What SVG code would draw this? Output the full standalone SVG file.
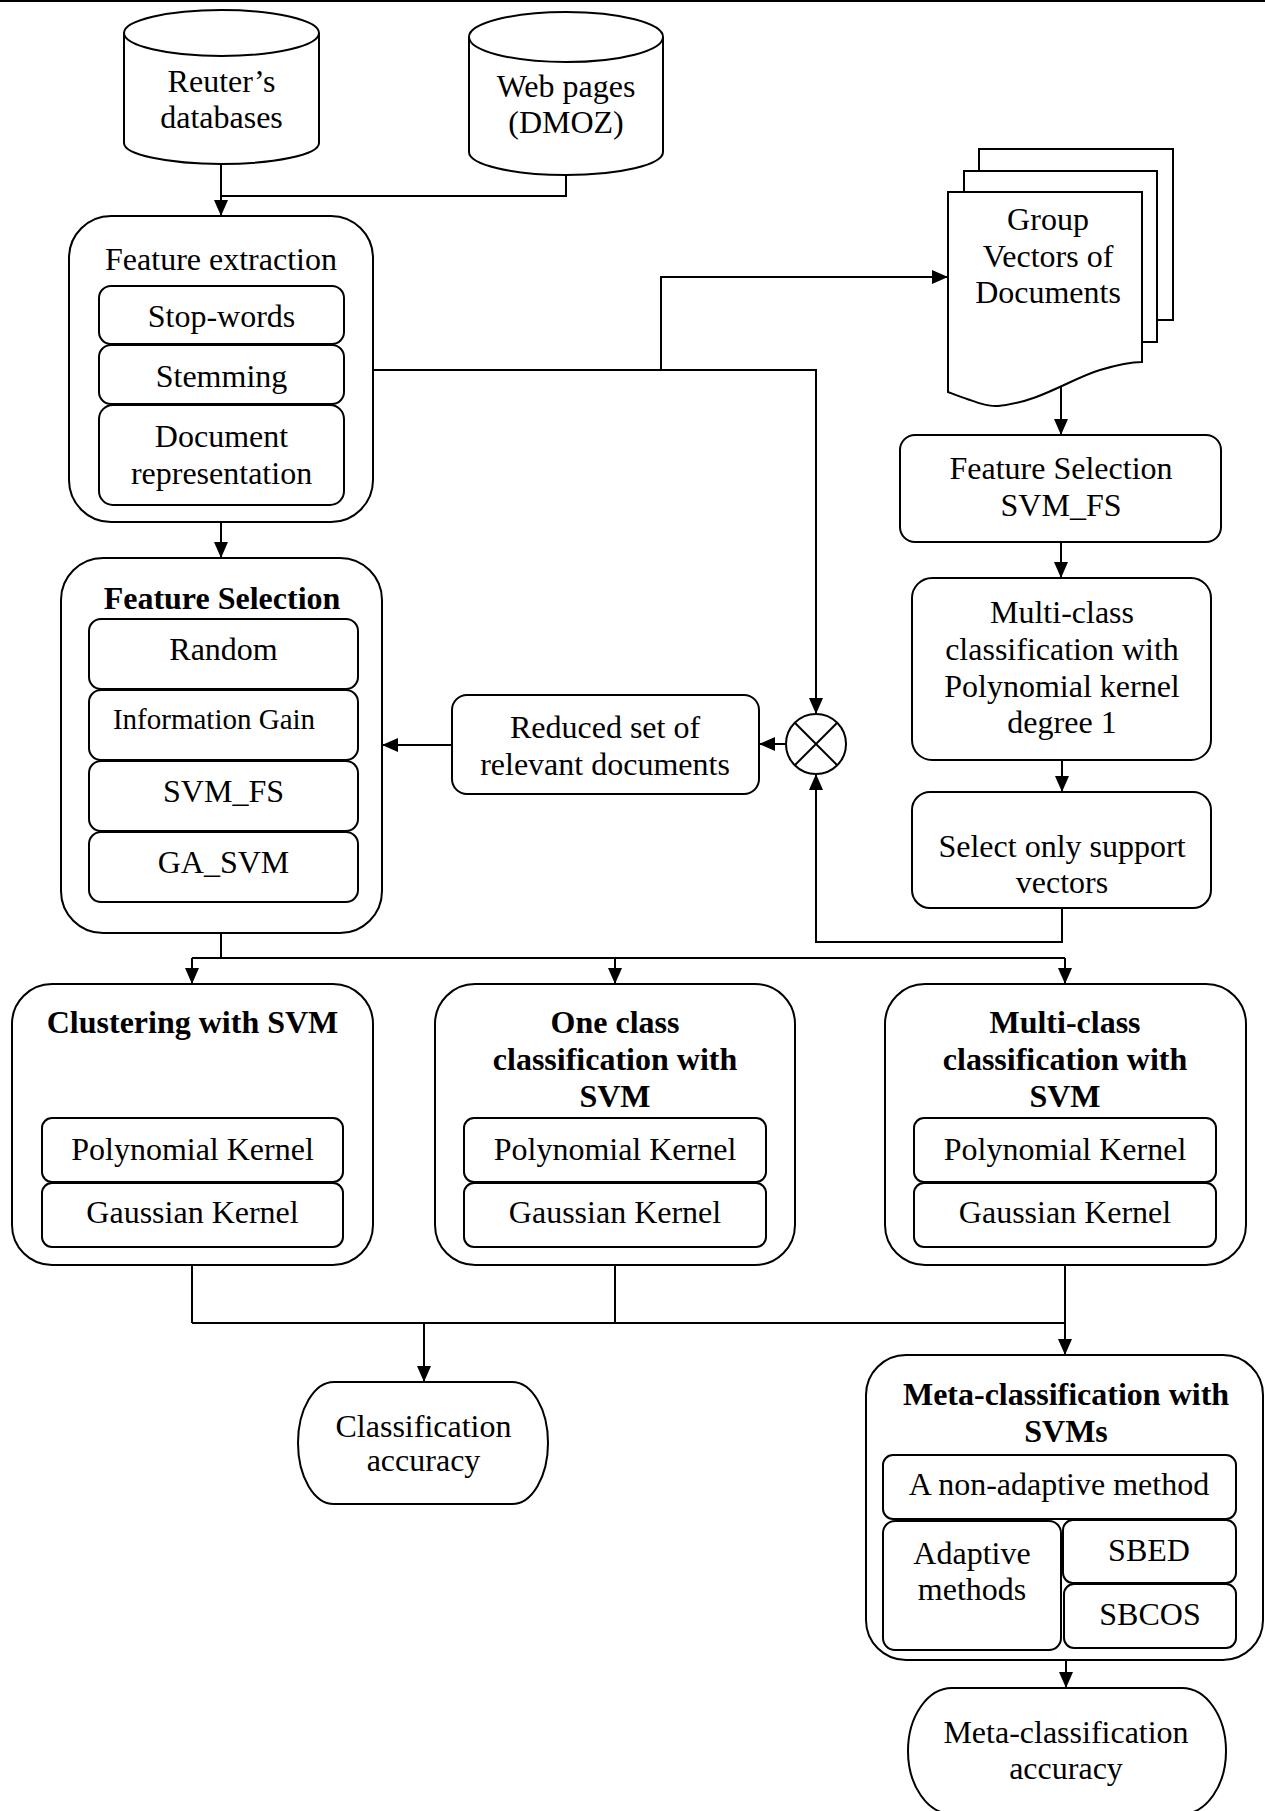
<svg xmlns="http://www.w3.org/2000/svg" width="1265" height="1811" viewBox="0 0 1265 1811">
<style>
.s{fill:#fff;stroke:#000;stroke-width:2}
.c{fill:none;stroke:#000;stroke-width:2}
text{font-family:"Liberation Serif","Times New Roman",serif;font-size:32px;fill:#000;text-anchor:middle}
.b{font-weight:bold}
</style>
<defs>
<marker id="arr" viewBox="0 0 16 16" refX="16" refY="8" markerWidth="16" markerHeight="16" markerUnits="userSpaceOnUse" orient="auto"><path d="M0,1 L16,8 L0,15 z" fill="#000"/></marker>
</defs>
<rect width="1265" height="1811" fill="#fff"/>
<line x1="0" y1="1" x2="1265" y2="1" stroke="#000" stroke-width="2"/>

<g id="connectors" class="c">
<path d="M221,164 V216" marker-end="url(#arr)"/>
<path d="M566,175 V196 H221"/>
<path d="M221,522 V558" marker-end="url(#arr)"/>
<path d="M373,370 H816 V714" marker-end="url(#arr)"/>
<path d="M661,370 V277 H948" marker-end="url(#arr)"/>
<path d="M1061,386 V435" marker-end="url(#arr)"/>
<path d="M1061,542 V578" marker-end="url(#arr)"/>
<path d="M1062,760 V792" marker-end="url(#arr)"/>
<path d="M1062,908 V942 H816 V774" marker-end="url(#arr)"/>
<path d="M785,744 H759" marker-end="url(#arr)"/>
<path d="M452,745 H382" marker-end="url(#arr)"/>
<path d="M221,933 V958 M192,958 H1065"/>
<path d="M192,958 V984" marker-end="url(#arr)"/>
<path d="M615,958 V984" marker-end="url(#arr)"/>
<path d="M1065,958 V984" marker-end="url(#arr)"/>
<path d="M192,1265 V1323 M615,1265 V1323 M1065,1265 V1323 M192,1323 H1065"/>
<path d="M424,1323 V1382" marker-end="url(#arr)"/>
<path d="M1065,1323 V1355" marker-end="url(#arr)"/>
<path d="M1066,1660 V1688" marker-end="url(#arr)"/>
</g>

<g id="reuters">
<path class="s" d="M124,33 V143 A97.5,21 0 0 0 319,143 V33"/>
<ellipse class="s" cx="221.5" cy="33" rx="97.5" ry="23"/>
<text x="221.5" y="92">Reuter’s</text>
<text x="221.5" y="128">databases</text>
</g>

<g id="webpages">
<path class="s" d="M469,37 V152 A97,23 0 0 0 663,152 V37"/>
<ellipse class="s" cx="566" cy="37" rx="97" ry="25"/>
<text x="566" y="97">Web pages</text>
<text x="566" y="133">(DMOZ)</text>
</g>

<g id="feature-extraction">
<rect class="s" x="69" y="216" width="304" height="306" rx="42"/>
<text x="221" y="270">Feature extraction</text>
<rect class="s" x="99" y="286" width="245" height="58" rx="12"/>
<text x="221.5" y="327">Stop-words</text>
<rect class="s" x="99" y="345" width="245" height="59" rx="12"/>
<text x="221.5" y="387">Stemming</text>
<rect class="s" x="99" y="405" width="245" height="100" rx="14"/>
<text x="221.5" y="447">Document</text>
<text x="221.5" y="484">representation</text>
</g>

<g id="group-vectors">
<path class="s" d="M979,149 H1173 V320 H1157 V171 H979 Z"/>
<path class="s" d="M964,171 H1157 V342 H1142 V192 H964 Z"/>
<path class="s" d="M948,192 H1142 V362 C1130,362 1120,364 1100,370 C1070,379 1040,402 998,406 C988,407 975,402 948,392 Z"/>
<text x="1048" y="230">Group</text>
<text x="1048" y="267">Vectors of</text>
<text x="1048" y="303">Documents</text>
</g>

<g id="fs-svmfs">
<rect class="s" x="900" y="435" width="321" height="107" rx="15"/>
<text x="1061" y="479">Feature Selection</text>
<text x="1061" y="516">SVM_FS</text>
</g>

<g id="multiclass-poly">
<rect class="s" x="912" y="578" width="299" height="182" rx="20"/>
<text x="1062" y="623">Multi-class</text>
<text x="1062" y="660">classification with</text>
<text x="1062" y="697">Polynomial kernel</text>
<text x="1062" y="733">degree 1</text>
</g>

<g id="select-sv">
<rect class="s" x="912" y="792" width="299" height="116" rx="18"/>
<text x="1062" y="857">Select only support</text>
<text x="1062" y="893">vectors</text>
</g>

<g id="combine">
<circle class="s" cx="816" cy="744" r="30"/>
<path class="c" d="M794.8,722.8 L837.2,765.2 M837.2,722.8 L794.8,765.2"/>
</g>

<g id="reduced-set">
<rect class="s" x="452" y="695" width="307" height="99" rx="15"/>
<text x="605" y="738">Reduced set of</text>
<text x="605" y="775">relevant documents</text>
</g>

<g id="feature-selection">
<rect class="s" x="61" y="558" width="321" height="375" rx="42"/>
<text class="b" x="222" y="609">Feature Selection</text>
<rect class="s" x="89" y="619" width="269" height="70" rx="12"/>
<text x="223.5" y="660">Random</text>
<rect class="s" x="89" y="690" width="269" height="70" rx="12"/>
<text x="214" y="729" style="font-size:29px">Information Gain</text>
<rect class="s" x="89" y="761" width="269" height="70" rx="12"/>
<text x="223.5" y="802">SVM_FS</text>
<rect class="s" x="89" y="832" width="269" height="70" rx="12"/>
<text x="223.5" y="873">GA_SVM</text>
</g>

<g id="clustering">
<rect class="s" x="12" y="984" width="361" height="281" rx="40"/>
<text class="b" x="192.5" y="1033">Clustering with SVM</text>
<rect class="s" x="42" y="1118" width="301" height="64" rx="10"/>
<text x="192.5" y="1160">Polynomial Kernel</text>
<rect class="s" x="42" y="1183" width="301" height="64" rx="10"/>
<text x="192.5" y="1223">Gaussian Kernel</text>
</g>

<g id="one-class">
<rect class="s" x="435" y="984" width="360" height="281" rx="40"/>
<text class="b" x="615" y="1033">One class</text>
<text class="b" x="615" y="1070">classification with</text>
<text class="b" x="615" y="1107">SVM</text>
<rect class="s" x="464" y="1118" width="302" height="64" rx="10"/>
<text x="615" y="1160">Polynomial Kernel</text>
<rect class="s" x="464" y="1183" width="302" height="64" rx="10"/>
<text x="615" y="1223">Gaussian Kernel</text>
</g>

<g id="multi-class">
<rect class="s" x="885" y="984" width="361" height="281" rx="40"/>
<text class="b" x="1065" y="1033">Multi-class</text>
<text class="b" x="1065" y="1070">classification with</text>
<text class="b" x="1065" y="1107">SVM</text>
<rect class="s" x="914" y="1118" width="302" height="64" rx="10"/>
<text x="1065" y="1160">Polynomial Kernel</text>
<rect class="s" x="914" y="1183" width="302" height="64" rx="10"/>
<text x="1065" y="1223">Gaussian Kernel</text>
</g>

<g id="classification-accuracy">
<rect class="s" x="298" y="1382" width="250" height="122" rx="36" ry="61"/>
<text x="423.5" y="1437">Classification</text>
<text x="423.5" y="1471">accuracy</text>
</g>

<g id="meta-classification">
<rect class="s" x="866" y="1355" width="397" height="305" rx="40"/>
<text class="b" x="1066" y="1405">Meta-classification with</text>
<text class="b" x="1066" y="1442">SVMs</text>
<rect class="s" x="883" y="1455" width="353" height="64" rx="10"/>
<text x="1059" y="1495">A non-adaptive method</text>
<rect class="s" x="883" y="1521" width="178" height="129" rx="12"/>
<text x="972" y="1564">Adaptive</text>
<text x="972" y="1600">methods</text>
<rect class="s" x="1063" y="1520" width="173" height="63" rx="10"/>
<text x="1149" y="1561">SBED</text>
<rect class="s" x="1064" y="1584" width="172" height="64" rx="10"/>
<text x="1150" y="1625">SBCOS</text>
</g>

<g id="meta-accuracy">
<rect class="s" x="908" y="1688" width="318" height="126" rx="44" ry="63"/>
<text x="1066" y="1743">Meta-classification</text>
<text x="1066" y="1779">accuracy</text>
</g>
</svg>
